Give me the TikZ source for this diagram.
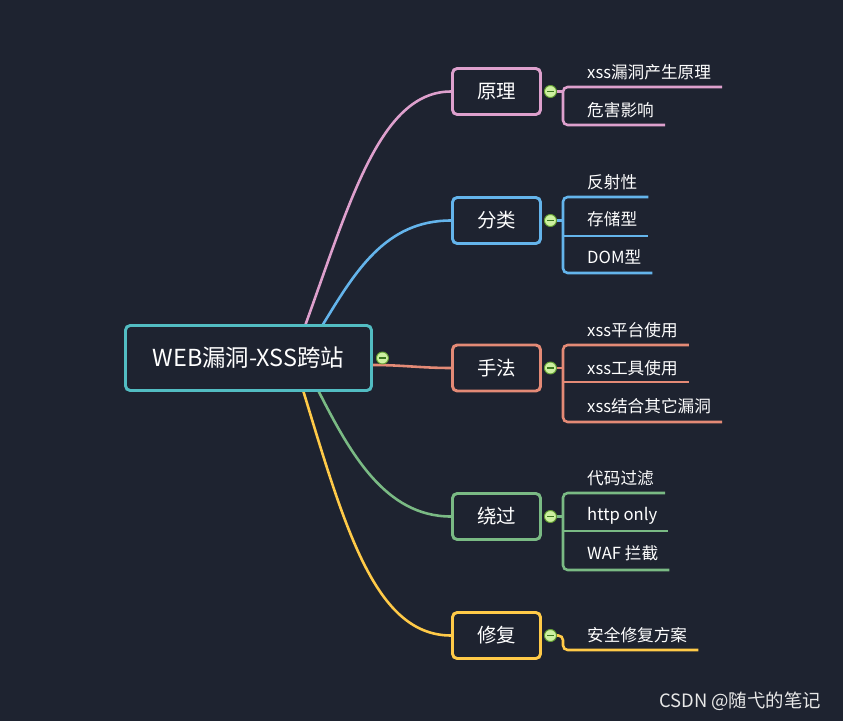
\documentclass[tikz,border=0pt]{standalone}
\usepackage{fontspec}
\setmainfont{Noto Sans CJK SC}
\usetikzlibrary{positioning}
\pgfdeclarelayer{canvas}
\pgfdeclarelayer{links}
\pgfsetlayers{canvas,links,main}
\definecolor{bgc}{RGB}{30,35,48}
\definecolor{tealc}{RGB}{82,188,194}
\definecolor{pinkc}{RGB}{222,160,205}
\definecolor{bluec}{RGB}{100,180,235}
\definecolor{salmonc}{RGB}{228,138,118}
\definecolor{greenc}{RGB}{122,186,132}
\definecolor{yellowc}{RGB}{255,202,72}
\definecolor{foldfill}{RGB}{205,240,160}
\definecolor{foldline}{RGB}{100,160,50}
\definecolor{foldminus}{RGB}{60,120,30}
\definecolor{markc}{RGB}{232,232,232}

\begin{document}
\begin{tikzpicture}[x=0.03cm, y=-0.03cm,
    every node/.style={text=white},
    root node/.style={rectangle, rounded corners=4pt, draw=tealc, fill=bgc, line width=2.5pt,
                      minimum width=7.38cm, minimum height=1.95cm,
                      font=\fontsize{20pt}{24pt}\selectfont},
    topic node/.style={rectangle, rounded corners=4pt, fill=bgc, line width=2.5pt,
                       minimum width=2.64cm, minimum height=1.38cm,
                       font=\fontsize{16.6pt}{20pt}\selectfont},
    leaf node/.style={anchor=west, inner xsep=0.33cm, inner ysep=0pt,
                      font=\fontsize{14.2pt}{17pt}\selectfont},
    fold/.style={circle, draw=foldline, fill=foldfill, line width=0.8pt,
                 minimum size=0.36cm, inner sep=0pt,
                 path picture={\draw[foldminus, line width=1.2pt]
                   ([xshift=-2.8pt]path picture bounding box.center) --
                   ([xshift=2.8pt]path picture bounding box.center);}},
    link/.style={line width=2.2pt},
    twig/.style={line width=2.2pt, rounded corners=4pt}]

    \useasboundingbox (0,0) rectangle (843,721);
    \begin{pgfonlayer}{canvas}
      \fill[bgc] (0,0) rectangle (843,721);
    \end{pgfonlayer}

    % main topic and branches
    \node[root node] (root) at (248.5,358) {WEB漏洞-XSS跨站};
    \node[topic node, draw=pinkc]   (b1) at (496.5,91.5)  {原理};
    \node[topic node, draw=bluec]   (b2) at (496.5,220.5) {分类};
    \node[topic node, draw=salmonc] (b3) at (496.5,368)   {手法};
    \node[topic node, draw=greenc]  (b4) at (496.5,516.5) {绕过};
    \node[topic node, draw=yellowc] (b5) at (496.5,635.5) {修复};

    \node[fold, right=0.09cm of root] (c0) {};
    \node[fold, right=0.06cm of b1] (c1) {};
    \node[fold, right=0.06cm of b2] (c2) {};
    \node[fold, right=0.06cm of b3] (c3) {};
    \node[fold, right=0.06cm of b4] (c4) {};
    \node[fold, right=0.06cm of b5] (c5) {};

    % junctions under the leaves
    \coordinate (j11) at (563,87);
    \coordinate (j12) at (563,125);
    \coordinate (j21) at (563,197);
    \coordinate (j22) at (563,236);
    \coordinate (j23) at (563,273);
    \coordinate (j31) at (563,345);
    \coordinate (j32) at (563,382);
    \coordinate (j33) at (563,422);
    \coordinate (j41) at (563,493);
    \coordinate (j42) at (563,531);
    \coordinate (j43) at (563,570);
    \coordinate (j51) at (563,650);

    % leaves
    \node[leaf node] (l11) at (576,72)  {xss漏洞产生原理};
    \node[leaf node] (l12) at (576,110) {危害影响};
    \node[leaf node] (l21) at (576,182) {反射性};
    \node[leaf node] (l22) at (576,219) {存储型};
    \node[leaf node] (l23) at (576,257) {DOM型};
    \node[leaf node] (l31) at (576,330) {xss平台使用};
    \node[leaf node] (l32) at (576,368) {xss工具使用};
    \node[leaf node] (l33) at (576,406) {xss结合其它漏洞};
    \node[leaf node] (l41) at (576,478) {代码过滤};
    \node[leaf node] (l42) at (576,516) {http only};
    \node[leaf node] (l43) at (576,553) {WAF 拦截};
    \node[leaf node] (l51) at (576,635) {安全修复方案};

    \begin{pgfonlayer}{links}
      % root to branches
      \draw[link, pinkc] ([shift={(-68,2)}]root.north east)
        .. controls +(45,-124) and +(-71,0) .. (b1.west);
      \draw[link, bluec] ([shift={(-51,2)}]root.north east)
        .. controls +(33,-54) and +(-66,0) .. (b2.west);
      \draw[link, salmonc] ([shift={(0,7)}]root.east)
        .. controls +(30,0) and +(-30,0) .. (b3.west);
      \draw[link, greenc] ([shift={(-55,-2)}]root.south east)
        .. controls +(32,63) and +(-66,0) .. (b4.west);
      \draw[link, yellowc] ([shift={(-70,-2)}]root.south east)
        .. controls +(42,138) and +(-76,0) .. (b5.west);

      % branches to leaves
      \draw[link, pinkc] (c1) -- (c1 -| j11);
      \draw[twig, pinkc] (j11 -| l11.east) -- (j11) -- (j12) -- (j12 -| l12.east);

      \draw[link, bluec] (c2) -- (c2 -| j21);
      \draw[twig, bluec] (j21 -| l21.east) -- (j21) -- (j23) -- (j23 -| l23.east);
      \draw[link, bluec] (j22) -- (j22 -| l22.east);

      \draw[link, salmonc] (c3) -- (c3 -| j31);
      \draw[twig, salmonc] (j31 -| l31.east) -- (j31) -- (j33) -- (j33 -| l33.east);
      \draw[link, salmonc] (j32) -- (j32 -| l32.east);

      \draw[link, greenc] (c4) -- (c4 -| j41);
      \draw[twig, greenc] (j41 -| l41.east) -- (j41) -- (j43) -- (j43 -| l43.east);
      \draw[link, greenc] (j42) -- (j42 -| l42.east);

      \draw[twig, yellowc] (c5) -- (c5 -| j51) -- (j51) -- (j51 -| l51.east);
    \end{pgfonlayer}

    \node[text=markc, font=\fontsize{15.7pt}{19pt}\selectfont] (wm) at (740,701) {CSDN @随弋的笔记};
\end{tikzpicture}
\end{document}
